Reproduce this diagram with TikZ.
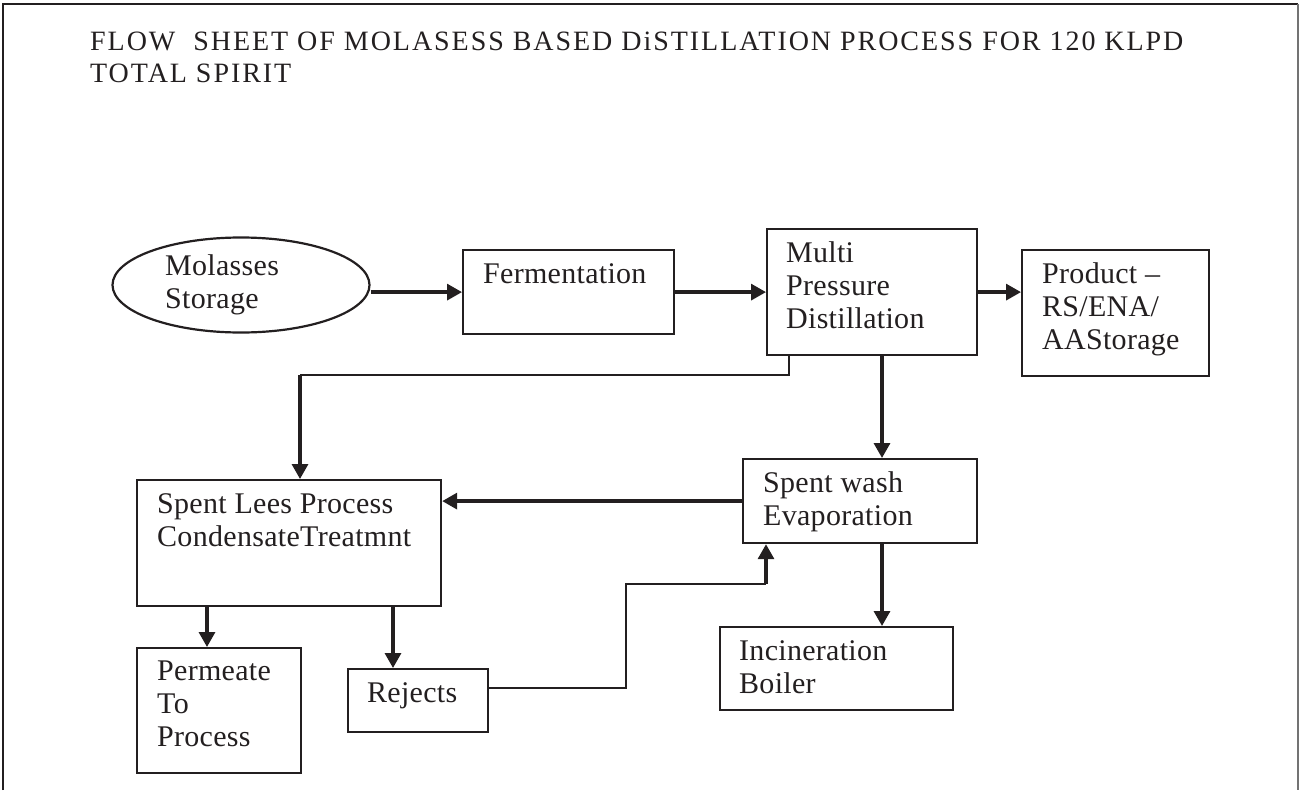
\documentclass[tikz,border=0pt]{standalone}
\usepackage{fontspec}
\setmainfont{Liberation Serif}
\newfontfamily\boxfont[LetterSpace=1]{Liberation Serif}
\newfontfamily\titlefont[LetterSpace=7]{Liberation Serif}
\usetikzlibrary{calc,arrows.meta,shapes.geometric}
\definecolor{ink}{RGB}{35,31,32}

\begin{document}
\begin{tikzpicture}[x=1pt,y=-1pt,
		box/.style={draw=ink, line width=2.2pt, anchor=north west, inner sep=0pt},
		boxtext/.style={anchor=north west, inner sep=0pt, align=left, text=ink, font=\boxfont\fontsize{30}{33}\selectfont},
		flow/.style={draw=ink, line width=3.3pt, -{Triangle[length=15pt,width=16pt]}},
		link/.style={draw=ink, line width=2.2pt}]
		\useasboundingbox (0,0) rectangle (1304,790);
		%%%%% FRAME AND TITLE %%%%%
		\draw[ink, line width=1.5pt] (3,790) -- (3,4) -- (1298,4);
		\draw[black!55, line width=2pt] (1298,4) -- (1298,790);
		\node[anchor=north west, inner sep=0pt, align=left, text=ink, font=\titlefont\fontsize{28}{32}\selectfont] (title) at (90,27.6)
			{\strut FLOW\ \ SHEET OF MOLASESS BASED DiSTILLATION PROCESS FOR 120 KLPD\\TOTAL SPIRIT};
		
		%%%%% TOP ROW %%%%%
		\node[draw=ink, line width=2.2pt, ellipse, inner sep=0pt, minimum width=257pt, minimum height=95pt] (mol) at (241,285) {};
		\node[boxtext] (molt) at (165,252) {\strut Molasses\\Storage};
		
		\node[box, minimum width=211pt, minimum height=84pt] (ferm) at (462,249) {};
		\node[boxtext] (fermt) at ($(ferm.north west)+(21,11.5)$) {\strut Fermentation};
		
		\node[box, minimum width=210pt, minimum height=126pt] (mpd) at (766,228) {};
		\node[boxtext] (mpdt) at ($(mpd.north west)+(20,11.5)$) {\strut Multi\\Pressure\\Distillation};
		
		\node[box, minimum width=187pt, minimum height=126pt] (prod) at (1021,249) {};
		\node[boxtext] (prodt) at ($(prod.north west)+(21,11.5)$) {\strut Product –\\RS/ENA/\\AAStorage};
		
		%%%%% LOWER PART %%%%%
		\node[box, minimum width=234pt, minimum height=84pt] (wash) at (742,458) {};
		\node[boxtext] (washt) at ($(wash.north west)+(21,11.5)$) {\strut Spent wash\\Evaporation};
		
		\node[box, minimum width=304pt, minimum height=126pt] (lees) at (136,479) {};
		\node[boxtext] (leest) at ($(lees.north west)+(21,11.5)$) {\strut Spent Lees Process\\CondensateTreatmnt};
		
		\node[box, minimum width=164pt, minimum height=125pt] (perm) at (136,647) {};
		\node[boxtext] (permt) at ($(perm.north west)+(21,10)$) {\strut Permeate\\To\\Process};
		
		\node[box, minimum width=140pt, minimum height=63pt] (rej) at (347,668) {};
		\node[boxtext] (rejt) at ($(rej.north west)+(20,11)$) {\strut Rejects};
		
		\node[box, minimum width=233pt, minimum height=83pt] (incin) at (719,626) {};
		\node[boxtext] (incint) at ($(incin.north west)+(20,11)$) {\strut Incineration\\Boiler};
		
		%%%%% CONNECTORS %%%%%
		\draw[flow] (mol.east |- ferm.west) -- (ferm.west);
		\draw[flow] (ferm.east) -- (ferm.east -| mpd.west);
		\draw[flow] (mpd.east |- ferm.east) -- (prod.west |- ferm.east);
		
		\coordinate (leesin) at ($(lees.north west)+(164,0)$);
		\draw[link] ($(mpd.south west)+(23,0)$) |- ($(leesin)+(0,-104)$);
		\draw[flow] ($(leesin)+(0,-104)$) -- (leesin);
		
		\draw[flow] ($(mpd.south west)+(116,0)$) -- ($(wash.north west)+(140,0)$);
		\draw[flow] (wash.west) -- (wash.west -| lees.east);
		\draw[flow] ($(wash.south west)+(140,0)$) -- ($(incin.north west)+(163,0)$);
		
		\draw[flow] ($(lees.south west)+(71,0)$) -- ($(perm.north west)+(71,0)$);
		\draw[flow] ($(lees.south west)+(257,0)$) -- ($(rej.north west)+(46,0)$);
		
		\coordinate (riser) at (626,584);
		\coordinate (washin) at ($(wash.south west)+(24,0)$);
		\draw[link] ($(rej.north east)+(0,20)$) -| (riser) -- (riser -| washin);
		\draw[flow] (riser -| washin) -- (washin);
	\end{tikzpicture}
\end{document}
